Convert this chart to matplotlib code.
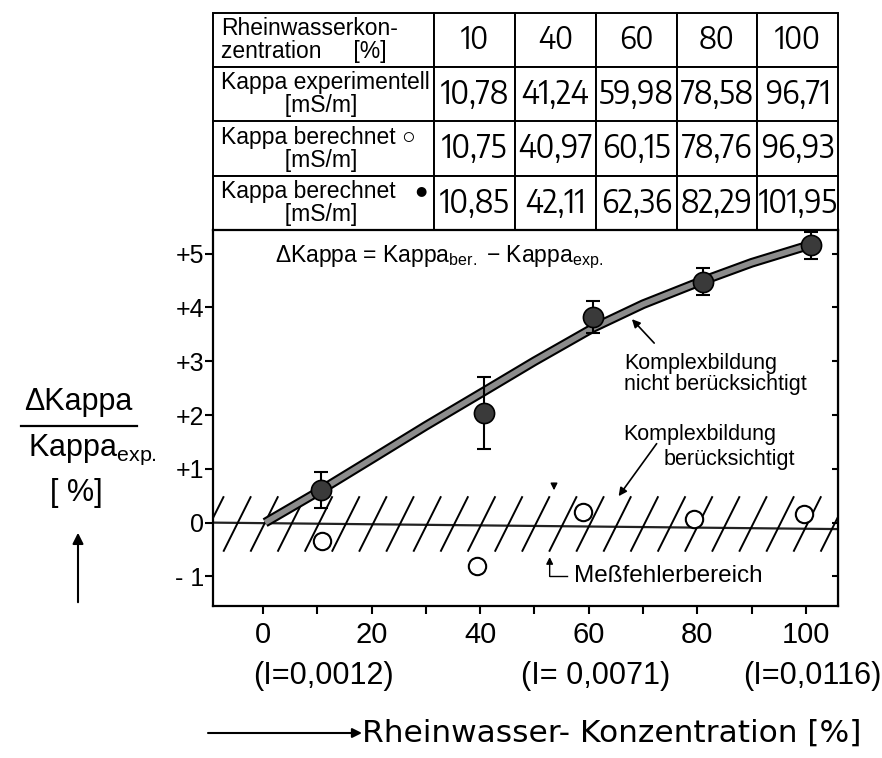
import numpy as np
import matplotlib
matplotlib.use("Agg")
import matplotlib.pyplot as plt
from matplotlib import font_manager as fm
from matplotlib.textpath import TextToPath
from matplotlib.lines import Line2D
from matplotlib.patches import FancyArrowPatch
from matplotlib.collections import LineCollection
from matplotlib.transforms import blended_transform_factory

plt.rcParams['font.family'] = ['Liberation Sans', 'DejaVu Sans']
plt.rcParams['mathtext.fontset'] = 'custom'
plt.rcParams['mathtext.rm'] = 'Liberation Sans'
plt.rcParams['mathtext.it'] = 'Liberation Sans:italic'

# table values
concentrations = ['10', '40', '60', '80', '100']
kappa_exp = ['10,78', '41,24', '59,98', '78,58', '96,71']
kappa_ber_open = ['10,75', '40,97', '60,15', '78,76', '96,93']
kappa_ber_filled = ['10,85', '42,11', '62,36', '82,29', '101,95']
header_label = 'Rheinwasserkon-\nzentration     [%]'
row_labels = ['Kappa experimentell\n          [mS/m]',
              'Kappa berechnet \u25cb\n          [mS/m]',
              'Kappa berechnet   \u25cf\n          [mS/m]']

# deviations
conc_filled = [10.6, 40.7, 60.8, 81.0, 101.0]
dev_filled = [0.61, 2.03, 3.82, 4.48, 5.16]
dev_filled_err = [0.33, 0.67, 0.30, 0.25, 0.25]
conc_open = [10.8, 39.5, 59.0, 79.3, 99.6]
dev_open = [-0.35, -0.80, 0.19, 0.07, 0.16]
curve_x = [0.4, 10.6, 20, 30, 40.7, 50, 60.8, 70, 80, 90, 101]
curve_y = [0.0, 0.60, 1.18, 1.80, 2.44, 3.00, 3.62, 4.06, 4.46, 4.83, 5.17]
zero_x = [-9.2, 105.9]
zero_y = [0.0, -0.12]
band = 0.5

ionic_conc = [10, 60, 100]
ionic_labels = ['(I=0,0012)', '(I= 0,0071)', '(I=0,0116)']
xticks = [0, 10, 20, 30, 40, 50, 60, 70, 80, 90, 100]
yticks = [-1, 0, 1, 2, 3, 4, 5]
ytick_labels = ['- 1', '0', '+1', '+2', '+3', '+4', '+5']

VALUE_PT = 23.0     # wanted size of the table numbers
CELL_PT = 57.0      # about 79 px: room for '101,95'


def table_font(sample='101,95'):
    # upright sans face whose '101,95' at VALUE_PT comes closest to the cell width
    t2p = TextToPath()
    target = 10 * CELL_PT / VALUE_PT
    best, best_w = None, None
    for e in fm.fontManager.ttflist:
        if e.style != 'normal' or e.weight not in (400, 'normal', 'regular', 'book'):
            continue
        if 'Sans' not in e.name or 'Mono' in e.name or 'CJK' in e.name:
            continue
        try:
            prop = fm.FontProperties(fname=e.fname, size=10)
            w, h, d = t2p.get_text_width_height_descent(sample, prop, ismath=False)
        except Exception:
            continue
        if best_w is None or abs(w - target) < abs(best_w - target):
            best, best_w = e.fname, w
    return best, best_w


value_file, value_w10 = table_font()
value_size = min(VALUE_PT, 10 * CELL_PT / value_w10) if value_w10 else 18.0

W, H = 882, 758
fig = plt.figure(figsize=(W / 100, H / 100), dpi=100)


def fx(px):
    return px / W


def fy(py):
    return 1 - py / H


# ---- table
ax_t = fig.add_axes([fx(213), fy(230), fx(625), (230 - 13) / H])
ax_t.axis('off')
cells = [[header_label] + concentrations,
         [row_labels[0]] + kappa_exp,
         [row_labels[1]] + kappa_ber_open,
         [row_labels[2]] + kappa_ber_filled]
tbl = ax_t.table(cellText=cells, cellLoc='center', bbox=[0, 0, 1, 1],
                 colWidths=[222, 81, 81, 81, 81, 81])
tbl.auto_set_font_size(False)
for (r, c), cell in tbl.get_celld().items():
    cell.set_linewidth(1.4)
    t = cell.get_text()
    if c == 0:
        t.set_ha('left')
        cell.PAD = 0.035
        t.set_fontsize(16.5)
        t.set_linespacing(1.0)
    else:
        if value_file:
            t.set_fontproperties(fm.FontProperties(fname=value_file))
        t.set_fontsize(value_size * (0.96 if r == 0 else 1.0))

# ---- main axes
ax = fig.add_axes([fx(213), fy(606), fx(625), (606 - 230) / H])
ax.set_xlim(-9.2, 105.9)
ax.set_ylim(-1.55, 5.44)
for s in ax.spines.values():
    s.set_linewidth(1.6)

ax.set_xticks(xticks)
ax.set_xticklabels([str(v) if v % 20 == 0 else '' for v in xticks])
ax.set_yticks(yticks)
ax.set_yticklabels(ytick_labels)
ax.tick_params(axis='x', direction='out', length=6, width=1.5, pad=5, labelsize=21)
ax.tick_params(axis='y', direction='out', length=5.5, width=1.5, pad=1, labelsize=18)
sec = ax.secondary_yaxis('right')
sec.set_yticks(yticks)
sec.tick_params(direction='in', length=4, width=1.5, labelright=False)

# measuring error band: horizontal line with slanted strokes
ax.plot(zero_x, zero_y, color='#222222', lw=1.6, zorder=1)
starts = np.arange(-12.3, 106, 5.0)
segs = [[(x0, -band - 0.04), (x0 + 5.1, band - 0.01)] for x0 in starts]
ax.add_collection(LineCollection(segs, colors='black', linewidths=1.4, zorder=1))

# calculated curve without complex formation
ax.plot(curve_x, curve_y, color='black', lw=7, solid_capstyle='butt', zorder=2)
ax.plot(curve_x, curve_y, color='#8c8c8c', lw=4, solid_capstyle='butt', zorder=2)

ax.errorbar(conc_filled, dev_filled, yerr=dev_filled_err, fmt='none', ecolor='black',
            elinewidth=1.5, capsize=5, capthick=1.5, zorder=3)
ax.plot(conc_filled, dev_filled, 'o', ms=14.5, mfc='#3a3a3a', mec='black', mew=1.2, zorder=4)
ax.plot(conc_open, dev_open, 'o', ms=12.5, mfc='white', mec='black', mew=1.5, zorder=4)

# annotations
ax.text(2.2, 4.85, r'$\Delta$Kappa = Kappa$_{\rm ber.}$ $-$ Kappa$_{\rm exp.}$',
        fontsize=16.5, va='baseline')
ax.text(66.5, 2.86, 'Komplexbildung', fontsize=15.5, va='baseline')
ax.text(66.5, 2.46, 'nicht berücksichtigt', fontsize=15.5, va='baseline')
ax.annotate('', xy=(67.6, 3.82), xytext=(72.4, 3.30),
            arrowprops=dict(arrowstyle='-|>', color='black', lw=1.2, mutation_scale=12))
ax.text(66.4, 1.54, 'Komplexbildung', fontsize=15.5, va='baseline')
ax.text(73.7, 1.07, 'berücksichtigt', fontsize=15.5, va='baseline')
ax.annotate('', xy=(65.2, 0.45), xytext=(72.8, 1.51),
            arrowprops=dict(arrowstyle='-|>', color='black', lw=1.2, mutation_scale=12))
ax.annotate('', xy=(53.6, 0.55), xytext=(53.6, 0.78),
            arrowprops=dict(arrowstyle='-|>', color='black', lw=1.0, mutation_scale=10))
ax.plot([52.8, 56.0], [-1.0, -1.0], color='black', lw=1.0)
ax.annotate('', xy=(52.8, -0.64), xytext=(52.8, -1.0),
            arrowprops=dict(arrowstyle='-|>', color='black', lw=1.0, mutation_scale=10,
                            shrinkA=0, shrinkB=0))
ax.text(57.2, -1.0, 'Meßfehlerbereich', fontsize=17.5, va='center')

trans = blended_transform_factory(ax.transData, ax.transAxes)
for c, lab in zip(ionic_conc, ionic_labels):
    ax.text(c + 1.2, -0.186, lab, transform=trans, ha='center', va='center', fontsize=22)

# y label
fig.text(fx(78), fy(402), '\u0394Kappa', ha='center', va='center', fontsize=22)
fig.add_artist(Line2D([fx(21), fx(137)], [fy(426), fy(426)], color='black', lw=1.6))
fig.text(fx(28), fy(450), r'Kappa$_{\rm exp.}$', ha='left', va='center', fontsize=22)
fig.text(fx(76), fy(493), '[ %]', ha='center', va='center', fontsize=22)
fig.add_artist(FancyArrowPatch((fx(78), fy(605)), (fx(78), fy(530)), transform=fig.transFigure,
                               arrowstyle='-|>', mutation_scale=16, color='black', lw=1.5))

# x label
fig.add_artist(FancyArrowPatch((fx(208), fy(733)), (fx(362), fy(733)), transform=fig.transFigure,
                               arrowstyle='-|>', mutation_scale=14, color='black', lw=1.5,
                               shrinkA=0, shrinkB=0))
fig.text(fx(362), fy(733), 'Rheinwasser- Konzentration [%]', ha='left', va='center',
         fontsize=22.5, family=['DejaVu Sans'])

fig.savefig('out.png', dpi=100)
